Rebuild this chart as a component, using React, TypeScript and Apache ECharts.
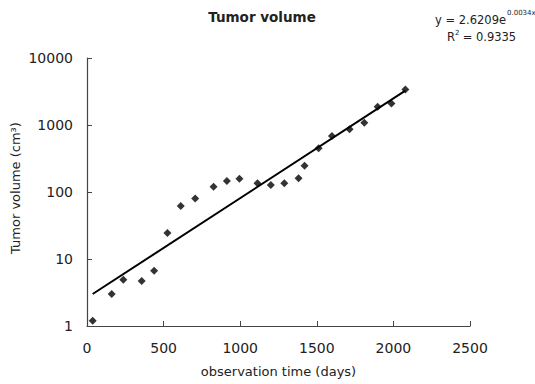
import React, { useEffect, useRef } from "react";
import * as echarts from "echarts";

const days = [37, 161, 237, 357, 438, 525, 612, 706, 826, 913, 995, 1113, 1200, 1288, 1381, 1420, 1512, 1599, 1714, 1810, 1897, 1987, 2078];
const volumes = [1.2, 3.0, 4.9, 4.7, 6.7, 24.5, 62, 80, 120, 146, 158, 135, 127, 135, 160, 247, 449, 685, 863, 1080, 1880, 2100, 3400];
const trendDays = [37, 2078];
const trendValues = [3.0, 3250];
const xTicks = [0, 500, 1000, 1500, 2000, 2500];
const yTicks = [1, 10, 100, 1000, 10000];

const FONT = "'DejaVu Sans', sans-serif";
const TXT = "#222";

export default function App() {
  const ref = useRef<HTMLDivElement>(null);
  useEffect(() => {
    if (!ref.current) return;
    const chart = echarts.init(ref.current, undefined, { renderer: "svg" });
    const t = (x: number, y: number, text: string, fontSize: number) => ({
      type: "text",
      x,
      y,
      style: { text, fontSize, fill: TXT, fontFamily: FONT, verticalAlign: "top" },
    });
    chart.setOption({
      animation: false,
      backgroundColor: "#ffffff",
      textStyle: { fontFamily: FONT },
      title: {
        text: "Tumor volume",
        left: 257,
        top: 5,
        textAlign: "center",
        textStyle: { fontSize: 13.5, fontWeight: "bold", color: TXT, fontFamily: FONT },
      },
      graphic: [
        t(435, 14, "y = 2.6209e", 11.5),
        t(507, 9, "0.0034x", 7),
        t(447, 31, "R", 11.5),
        t(455, 29, "2", 7),
        t(459, 31, " = 0.9335", 11.5),
        {
          type: "text",
          x: 15,
          y: 188,
          rotation: Math.PI / 2,
          style: {
            text: "Tumor volume (cm³)",
            fontSize: 13,
            fill: TXT,
            fontFamily: FONT,
            align: "center",
            verticalAlign: "middle",
          },
        },
      ],
      grid: { left: 87, right: 65, top: 58, bottom: 58 },
      xAxis: {
        type: "value",
        min: 0,
        max: 2500,
        interval: 500,
        name: "observation time (days)",
        nameLocation: "middle",
        nameGap: 39,
        nameTextStyle: { fontSize: 13, color: TXT, fontFamily: FONT, verticalAlign: "top" },
        axisLine: { lineStyle: { color: "#444", width: 1.2 } },
        axisTick: { inside: true, length: 5, lineStyle: { color: "#444" } },
        axisLabel: {
          fontSize: 14,
          color: TXT,
          margin: 15,
          fontFamily: FONT,
          formatter: (v: number) => (xTicks.includes(v) ? String(v) : ""),
        },
        splitLine: { show: false },
      },
      yAxis: {
        type: "log",
        logBase: 10,
        min: yTicks[0],
        max: yTicks[yTicks.length - 1],
        axisLine: { show: true, lineStyle: { color: "#444", width: 1.2 } },
        axisTick: { show: true, inside: true, length: 5, lineStyle: { color: "#444" } },
        axisLabel: {
          fontSize: 14,
          color: TXT,
          margin: 14,
          fontFamily: FONT,
          formatter: (v: number) => String(Math.round(v)),
        },
        splitLine: { show: false },
      },
      series: [
        {
          type: "line",
          data: trendDays.map((d, i) => [d, trendValues[i]]),
          symbol: "none",
          lineStyle: { color: "#000", width: 2 },
          z: 2,
        },
        {
          type: "scatter",
          data: days.map((d, i) => [d, volumes[i]]),
          symbol: "diamond",
          symbolSize: 8,
          itemStyle: { color: "#000" },
          z: 3,
        },
      ],
    });
    return () => chart.dispose();
  }, []);
  return <div ref={ref} style={{ width: 535, height: 384, position: "absolute", left: 0, top: 0 }} />;
}
